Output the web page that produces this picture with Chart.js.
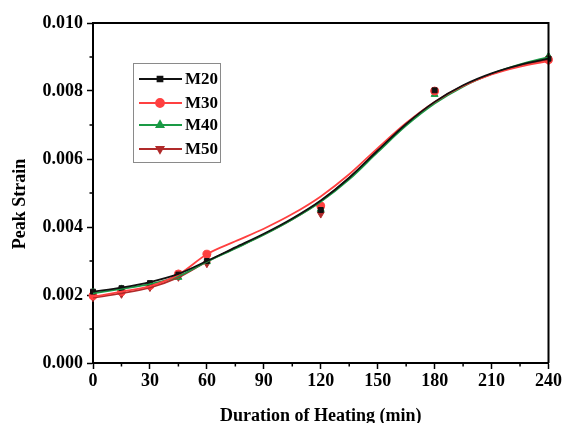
<!DOCTYPE html>
<html>
<head>
<meta charset="utf-8">
<script src="https://cdn.jsdelivr.net/npm/chart.js@4.4.1/dist/chart.umd.min.js"></script>
<style>
  html, body { margin: 0; padding: 0; background: #ffffff; }
  #wrap { width: 564px; height: 423px; }
</style>
</head>
<body>
<div id="wrap"><canvas id="chart" width="564" height="423"></canvas></div>
<script>
// Measured peak strain at each heating duration
const heatingMinutes = [0, 15, 30, 45, 60, 120, 180, 240];
const m20Strain = [0.00210, 0.00220, 0.00235, 0.00260, 0.00300, 0.00450, 0.00802, 0.00895];
const m30Strain = [0.00198, 0.00210, 0.00228, 0.00262, 0.00320, 0.00462, 0.00800, 0.00892];
const m40Strain = [0.00208, 0.00218, 0.00228, 0.00252, 0.00298, 0.00452, 0.00790, 0.00902];
const m50Strain = [0.00192, 0.00202, 0.00222, 0.00252, 0.00292, 0.00438, 0.00800, 0.00888];

// Fitted trend curves, sampled every 15 min
const fitMinutes = [0, 15, 30, 45, 60, 75, 90, 105, 120, 135, 150, 165, 180, 195, 210, 225, 240];
const m20Fit = [0.00210, 0.00222, 0.00238, 0.00262, 0.00300, 0.00340, 0.00380, 0.00425, 0.00478, 0.00545, 0.00625, 0.00703, 0.00768, 0.00817, 0.00852, 0.00877, 0.00895];
const m30Fit = [0.00195, 0.00210, 0.00226, 0.00260, 0.00320, 0.00358, 0.00395, 0.00438, 0.00490, 0.00555, 0.00632, 0.00706, 0.00768, 0.00815, 0.00849, 0.00872, 0.00888];
const m40Fit = [0.00205, 0.00218, 0.00232, 0.00255, 0.00298, 0.00337, 0.00377, 0.00422, 0.00474, 0.00540, 0.00620, 0.00698, 0.00763, 0.00813, 0.00850, 0.00878, 0.00900];
const m50Fit = [0.00192, 0.00205, 0.00222, 0.00252, 0.00298, 0.00338, 0.00378, 0.00423, 0.00476, 0.00545, 0.00625, 0.00703, 0.00766, 0.00815, 0.00850, 0.00875, 0.00892];

const xTicks = [0, 30, 60, 90, 120, 150, 180, 210, 240];
const yTicks = [0.000, 0.002, 0.004, 0.006, 0.008, 0.010];
const xMinorTicks = [15, 45, 75, 105, 135, 165, 195, 225];
const yMinorTicks = [0.001, 0.003, 0.005, 0.007, 0.009];

const series = [
  { name: 'M20', color: '#111111', marker: 'rect',     rotation: 0,   points: m20Strain, fit: m20Fit },
  { name: 'M30', color: '#ff4040', marker: 'circle',   rotation: 0,   points: m30Strain, fit: m30Fit },
  { name: 'M40', color: '#1a9a45', marker: 'triangle', rotation: 0,   points: m40Strain, fit: m40Fit },
  { name: 'M50', color: '#b02a2a', marker: 'triangle', rotation: 180, points: m50Strain, fit: m50Fit }
];

const FONT = "'Liberation Serif', 'Times New Roman', serif";

const datasets = [];
series.forEach(s => {
  datasets.push({
    label: s.name + ' fit',
    data: fitMinutes.map((m, i) => ({ x: m, y: s.fit[i] })),
    borderColor: s.color,
    borderWidth: 1.8,
    pointRadius: 0,
    cubicInterpolationMode: 'monotone',
    fill: false
  });
});
series.forEach(s => {
  datasets.push({
    label: s.name,
    data: heatingMinutes.map((m, i) => ({ x: m, y: s.points[i] })),
    showLine: false,
    pointStyle: s.marker,
    rotation: s.rotation,
    pointRadius: s.marker === 'rect' ? 3.5 : 4,
    backgroundColor: s.color,
    borderColor: s.color,
    borderWidth: 1,
    clip: false
  });
});

// Frame, minor ticks, axis titles and the legend box
const decorations = {
  id: 'decorations',
  afterDatasetsDraw(chart) {
    const ctx = chart.ctx;
    const area = chart.chartArea;
    const xs = chart.scales.x, ys = chart.scales.y;
    ctx.save();

    // top and right frame lines
    ctx.strokeStyle = '#000';
    ctx.lineWidth = 2;
    ctx.beginPath();
    ctx.moveTo(area.left, area.top);
    ctx.lineTo(area.right, area.top);
    ctx.lineTo(area.right, area.bottom);
    ctx.stroke();

    // minor ticks
    ctx.lineWidth = 1.5;
    ctx.beginPath();
    xMinorTicks.forEach(v => {
      const px = xs.getPixelForValue(v);
      ctx.moveTo(px, area.bottom);
      ctx.lineTo(px, area.bottom + 3.5);
    });
    yMinorTicks.forEach(v => {
      const py = ys.getPixelForValue(v);
      ctx.moveTo(area.left, py);
      ctx.lineTo(area.left - 3.5, py);
    });
    ctx.stroke();

    // axis titles
    ctx.fillStyle = '#000';
    ctx.font = 'bold 18px ' + FONT;
    ctx.textAlign = 'center';
    ctx.textBaseline = 'middle';
    ctx.fillText('Duration of Heating (min)', (area.left + area.right) / 2, 416);
    ctx.save();
    ctx.translate(20, 204);
    ctx.rotate(-Math.PI / 2);
    ctx.fillText('Peak Strain', 0, 0);
    ctx.restore();

    // legend
    const box = { x: 133, y: 63, w: 87, h: 99 };
    ctx.fillStyle = '#fff';
    ctx.fillRect(box.x, box.y, box.w, box.h);
    ctx.strokeStyle = '#8a8a8a';
    ctx.lineWidth = 1;
    ctx.strokeRect(box.x + 0.5, box.y + 0.5, box.w, box.h);
    const rows = [79, 103, 125, 149];
    series.forEach((s, i) => {
      const y = rows[i];
      ctx.strokeStyle = s.color;
      ctx.lineWidth = 1.8;
      ctx.beginPath();
      ctx.moveTo(139, y);
      ctx.lineTo(182, y);
      ctx.stroke();
      ctx.fillStyle = s.color;
      Chart.helpers.drawPoint(ctx, {
        pointStyle: s.marker,
        rotation: s.rotation,
        radius: s.marker === 'rect' ? 3.5 : 4,
        borderWidth: 1
      }, 160, y);
      ctx.fillStyle = '#000';
      ctx.font = 'bold 17px ' + FONT;
      ctx.textAlign = 'left';
      ctx.textBaseline = 'middle';
      ctx.fillText(s.name, 185, y + 1);
    });
    ctx.restore();
  }
};

new Chart(document.getElementById('chart'), {
  type: 'line',
  data: { datasets },
  options: {
    responsive: false,
    animation: false,
    devicePixelRatio: 1,
    layout: { padding: { top: 23, right: 13, left: 0, bottom: 0 } },
    plugins: { legend: { display: false }, tooltip: { enabled: false } },
    scales: {
      x: {
        type: 'linear',
        min: 0, max: 240,
        afterFit(scale) { scale.height = 60; },
        afterBuildTicks(scale) { scale.ticks = xTicks.map(v => ({ value: v })); },
        ticks: {
          color: '#000',
          font: { family: FONT, size: 18, weight: 'bold' },
          padding: 2,
          maxRotation: 0,
          autoSkip: false,
          callback: v => String(v)
        },
        grid: { drawOnChartArea: false, drawTicks: true, tickLength: 6, tickWidth: 1.5, tickColor: '#000' },
        border: { display: true, color: '#000', width: 2 }
      },
      y: {
        type: 'linear',
        min: 0, max: 0.01,
        afterFit(scale) { scale.width = 93; },
        afterBuildTicks(scale) { scale.ticks = yTicks.map(v => ({ value: v })); },
        ticks: {
          color: '#000',
          font: { family: FONT, size: 18, weight: 'bold' },
          padding: 4,
          autoSkip: false,
          callback: v => Number(v).toFixed(3)
        },
        grid: { drawOnChartArea: false, drawTicks: true, tickLength: 6, tickWidth: 1.5, tickColor: '#000' },
        border: { display: true, color: '#000', width: 2 }
      }
    }
  },
  plugins: [decorations]
});
</script>
</body>
</html>
